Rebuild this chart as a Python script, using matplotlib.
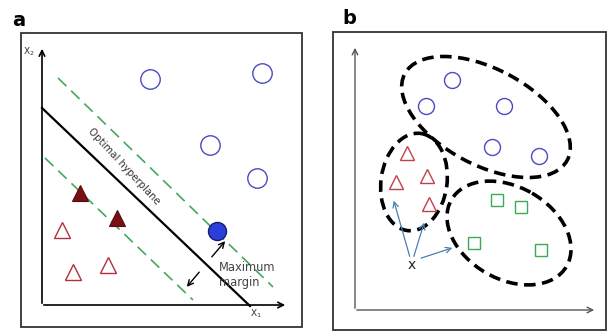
import matplotlib
matplotlib.use("Agg")
import matplotlib.pyplot as plt
from matplotlib.patches import Ellipse, Rectangle

# ---------------- data (pixel-like diagram coordinates) ----------------
# Panel a
a_open_circles_x = [150, 262, 210, 257]
a_open_circles_y = [79, 73, 145, 178]
a_support_circle = [217, 231]
a_filled_tri_x = [80, 117]
a_filled_tri_y = [193, 218]
a_open_tri_x = [62, 73, 108]
a_open_tri_y = [230, 272, 265]
hyperplane_x = [42, 250]
hyperplane_y = [108, 306]
margin_upper_x = [58, 273]
margin_upper_y = [78, 287]
margin_lower_x = [45, 193]
margin_lower_y = [158, 300]

# Panel b
b_circles_x = [452, 426, 504, 492, 539]
b_circles_y = [80, 106, 106, 147, 156]
b_tri_x = [407, 396, 427, 429]
b_tri_y = [153, 182, 176, 204]
b_sq_x = [497, 521, 474, 541]
b_sq_y = [200, 207, 243, 250]
query_point = [412, 265]
query_targets_x = [393, 425, 455]
query_targets_y = [198, 220, 247]
clusters = [  # cx, cy, width, height, angle
    (486, 117, 184, 96, 28),
    (414, 182, 66, 98, 8),
    (509, 233, 133, 92, 30),
]

W, H = 608, 334
fig = plt.figure(figsize=(W / 100, H / 100), dpi=100)
ax = fig.add_axes([0, 0, 1, 1])
ax.set_xlim(0, W)
ax.set_ylim(H, 0)
ax.axis("off")

# frames
ax.add_patch(Rectangle((21, 33), 281, 294, fill=False, ec="#333333", lw=1.3))
ax.add_patch(Rectangle((333, 32), 273, 298, fill=False, ec="#333333", lw=1.3))
ax.text(12, 20, "a", fontsize=14, fontweight="bold", va="center", ha="left")
ax.text(342, 18, "b", fontsize=14, fontweight="bold", va="center", ha="left")

# ---- panel a axes
ax.annotate("", xy=(42, 46), xytext=(42, 306),
            arrowprops=dict(arrowstyle="->", lw=1.2, color="black"))
ax.annotate("", xy=(288, 305), xytext=(41, 305),
            arrowprops=dict(arrowstyle="->", lw=1.2, color="black"))
ax.text(29, 52, "X$_2$", fontsize=6.5, color="#333333", ha="center", va="center")
ax.text(256, 314, "X$_1$", fontsize=6.5, color="#333333", ha="center", va="center")

ax.plot(hyperplane_x, hyperplane_y, color="black", lw=1.6)
ax.plot(margin_upper_x, margin_upper_y, color="#45a85a", lw=1.2, ls=(0, (7, 4)))
ax.plot(margin_lower_x, margin_lower_y, color="#45a85a", lw=1.2, ls=(0, (7, 4)))

ax.plot(a_open_circles_x, a_open_circles_y, "o", ms=14, mfc="none",
        mec="#4a4ac4", mew=1.0, ls="none")
ax.plot([a_support_circle[0]], [a_support_circle[1]], "o", ms=13,
        mfc="#2a3fd8", mec="#1a1a70", mew=1.0)
ax.plot(a_filled_tri_x, a_filled_tri_y, "^", ms=11, mfc="#7a0f14",
        mec="#5a0a0e", mew=0.8, ls="none")
ax.plot(a_open_tri_x, a_open_tri_y, "^", ms=11, mfc="none",
        mec="#b0303c", mew=1.0, ls="none")

ax.text(124, 166, "Optimal hyperplane", fontsize=7.3, color="#333333",
        rotation=-47, ha="center", va="center", rotation_mode="anchor")
ax.text(219, 275, "Maximum\nmargin", fontsize=8.3, color="#444444",
        ha="left", va="center", linespacing=1.25)
ax.annotate("", xy=(227, 239), xytext=(210, 259),
            arrowprops=dict(arrowstyle="->", lw=1.0, color="black"))
ax.annotate("", xy=(185, 289), xytext=(201, 270),
            arrowprops=dict(arrowstyle="->", lw=1.0, color="black"))

# ---- panel b axes
ax.annotate("", xy=(355, 45), xytext=(355, 311),
            arrowprops=dict(arrowstyle="->", lw=1.0, color="#555555"))
ax.annotate("", xy=(597, 310), xytext=(354, 310),
            arrowprops=dict(arrowstyle="->", lw=1.0, color="#555555"))

for cx, cy, w, h, ang in clusters:
    ax.add_patch(Ellipse((cx, cy), w, h, angle=ang, fill=False, ec="black",
                         lw=2.6, ls=(0, (3.2, 1.8))))

ax.plot(b_circles_x, b_circles_y, "o", ms=11.5, mfc="none", mec="#4a4ac4",
        mew=1.0, ls="none")
ax.plot(b_tri_x, b_tri_y, "^", ms=10, mfc="none", mec="#c0404c", mew=1.0,
        ls="none")
ax.plot(b_sq_x, b_sq_y, "s", ms=9, mfc="none", mec="#3daa55", mew=1.0,
        ls="none")

ax.text(query_point[0], query_point[1], "x", fontsize=10, ha="center",
        va="center", color="#222222")
for tx, ty in zip(query_targets_x, query_targets_y):
    sx = query_point[0] + (tx - query_point[0]) * 0.08
    sy = query_point[1] - 6
    ax.annotate("", xy=(tx, ty), xytext=(sx + (3 if tx > 440 else 0), sy),
                arrowprops=dict(arrowstyle="->", lw=0.9, color="#4a7fb0"))

fig.savefig("out.png", dpi=100)
